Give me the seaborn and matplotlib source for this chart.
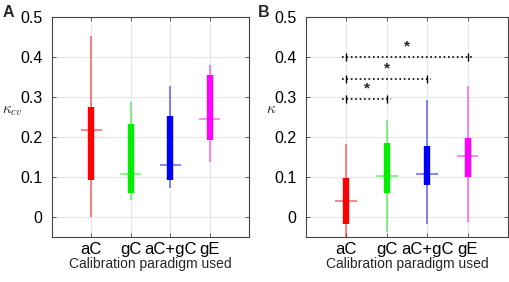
import numpy as np
import pandas as pd
import matplotlib
matplotlib.use("Agg")
import matplotlib.pyplot as plt
import seaborn as sns

# ----------------------------------------------------------
# DATA
# ----------------------------------------------------------

paradigms = ["aC", "gC", "aC+gC", "gE"]
colors = ["#ff0000", "#00ee00", "#0000ff", "#ff00ff"]

# panel A : kappa_cv
a_lo = [0.000, 0.043, 0.073, 0.136]
a_q1 = [0.092, 0.060, 0.091, 0.193]
a_med = [0.217, 0.108, 0.130, 0.244]
a_q3 = [0.275, 0.233, 0.253, 0.355]
a_hi = [0.452, 0.287, 0.327, 0.381]

# panel B : kappa
b_lo = [-0.090, -0.038, -0.019, -0.013]
b_q1 = [-0.017, 0.060, 0.079, 0.100]
b_med = [0.039, 0.102, 0.106, 0.153]
b_q3 = [0.096, 0.185, 0.178, 0.198]
b_hi = [0.183, 0.243, 0.292, 0.328]

# significance brackets (from aC to ...)
sig_to = ["gC", "aC+gC", "gE"]
sig_y = [0.295, 0.346, 0.400]

# ----------------------------------------------------------
# STYLE
# ----------------------------------------------------------

sns.set_theme(style="whitegrid")
plt.rcParams['font.family'] = ['Liberation Sans', 'DejaVu Sans']
plt.rcParams['mathtext.fontset'] = 'cm'

fig = plt.figure(figsize=(5.1, 2.82), dpi=100)
axA = fig.add_axes([0.102, 0.160, 0.386, 0.780])
axB = fig.add_axes([0.600, 0.160, 0.396, 0.780])


def draw_panel(ax, lo, q1, med, q3, hi, ylabel):
    df = pd.DataFrame({"paradigm": paradigms, "lo": lo, "q1": q1,
                       "med": med, "q3": q3, "hi": hi})
    pos = np.arange(1, len(paradigms) + 1)
    for i, row in df.iterrows():
        c = colors[i]
        ax.vlines(pos[i], row["lo"], row["hi"], color=c, lw=1.1, alpha=0.6, zorder=2)
        ax.vlines(pos[i], row["q1"], row["q3"], color=c, lw=4.6, zorder=3)
        ax.hlines(row["med"], pos[i] - 0.27, pos[i] + 0.27, color=c, lw=1.1,
                  alpha=0.6, zorder=4)
    ax.set_xlim(0, 5)
    ax.set_ylim(-0.05, 0.5)
    ax.set_xticks(pos)
    ax.set_xticklabels(paradigms, fontsize=12)
    ax.set_yticks([0, 0.1, 0.2, 0.3, 0.4, 0.5])
    ax.set_yticklabels(["0", "0.1", "0.2", "0.3", "0.4", "0.5"], fontsize=11.5)
    ax.grid(True, color="#e6e6e6", lw=0.8)
    ax.set_facecolor("white")
    for s in ax.spines.values():
        s.set_color("#444444")
        s.set_linewidth(0.8)
        s.set_visible(True)
    ax.tick_params(direction="in", length=3, width=0.6, color="#444444",
                   left=True, right=True, bottom=True, top=True,
                   labelcolor="black")
    ax.tick_params(axis="y", pad=7)
    ax.tick_params(axis="x", pad=4)
    ax.set_xlabel("Calibration paradigm used", fontsize=10, labelpad=0)
    ax.set_ylabel(ylabel, fontsize=11, rotation=0)


draw_panel(axA, a_lo, a_q1, a_med, a_q3, a_hi, r"$\kappa_{cv}$")
draw_panel(axB, b_lo, b_q1, b_med, b_q3, b_hi, r"$\kappa$")
axA.yaxis.set_label_coords(-0.2, 0.54)
axB.yaxis.set_label_coords(-0.17, 0.55)

# significance brackets
for tgt, yy in zip(sig_to, sig_y):
    x0 = 1
    x1 = paradigms.index(tgt) + 1
    axB.plot([x0 - 0.1, x1 + 0.1], [yy, yy], color="black", ls=":", lw=1.2, zorder=5)
    axB.vlines([x0, x1], yy - 0.01, yy + 0.01, color="black", lw=1.0, zorder=5)
    axB.text((x0 + x1) / 2, yy + 0.008, "*", ha="center", va="bottom",
             fontsize=11, fontweight="bold")

fig.text(0.006, 0.955, "A", fontsize=11.5, fontweight="bold", va="center")
fig.text(0.506, 0.955, "B", fontsize=11.5, fontweight="bold", va="center")

fig.savefig("out.png", dpi=100)
